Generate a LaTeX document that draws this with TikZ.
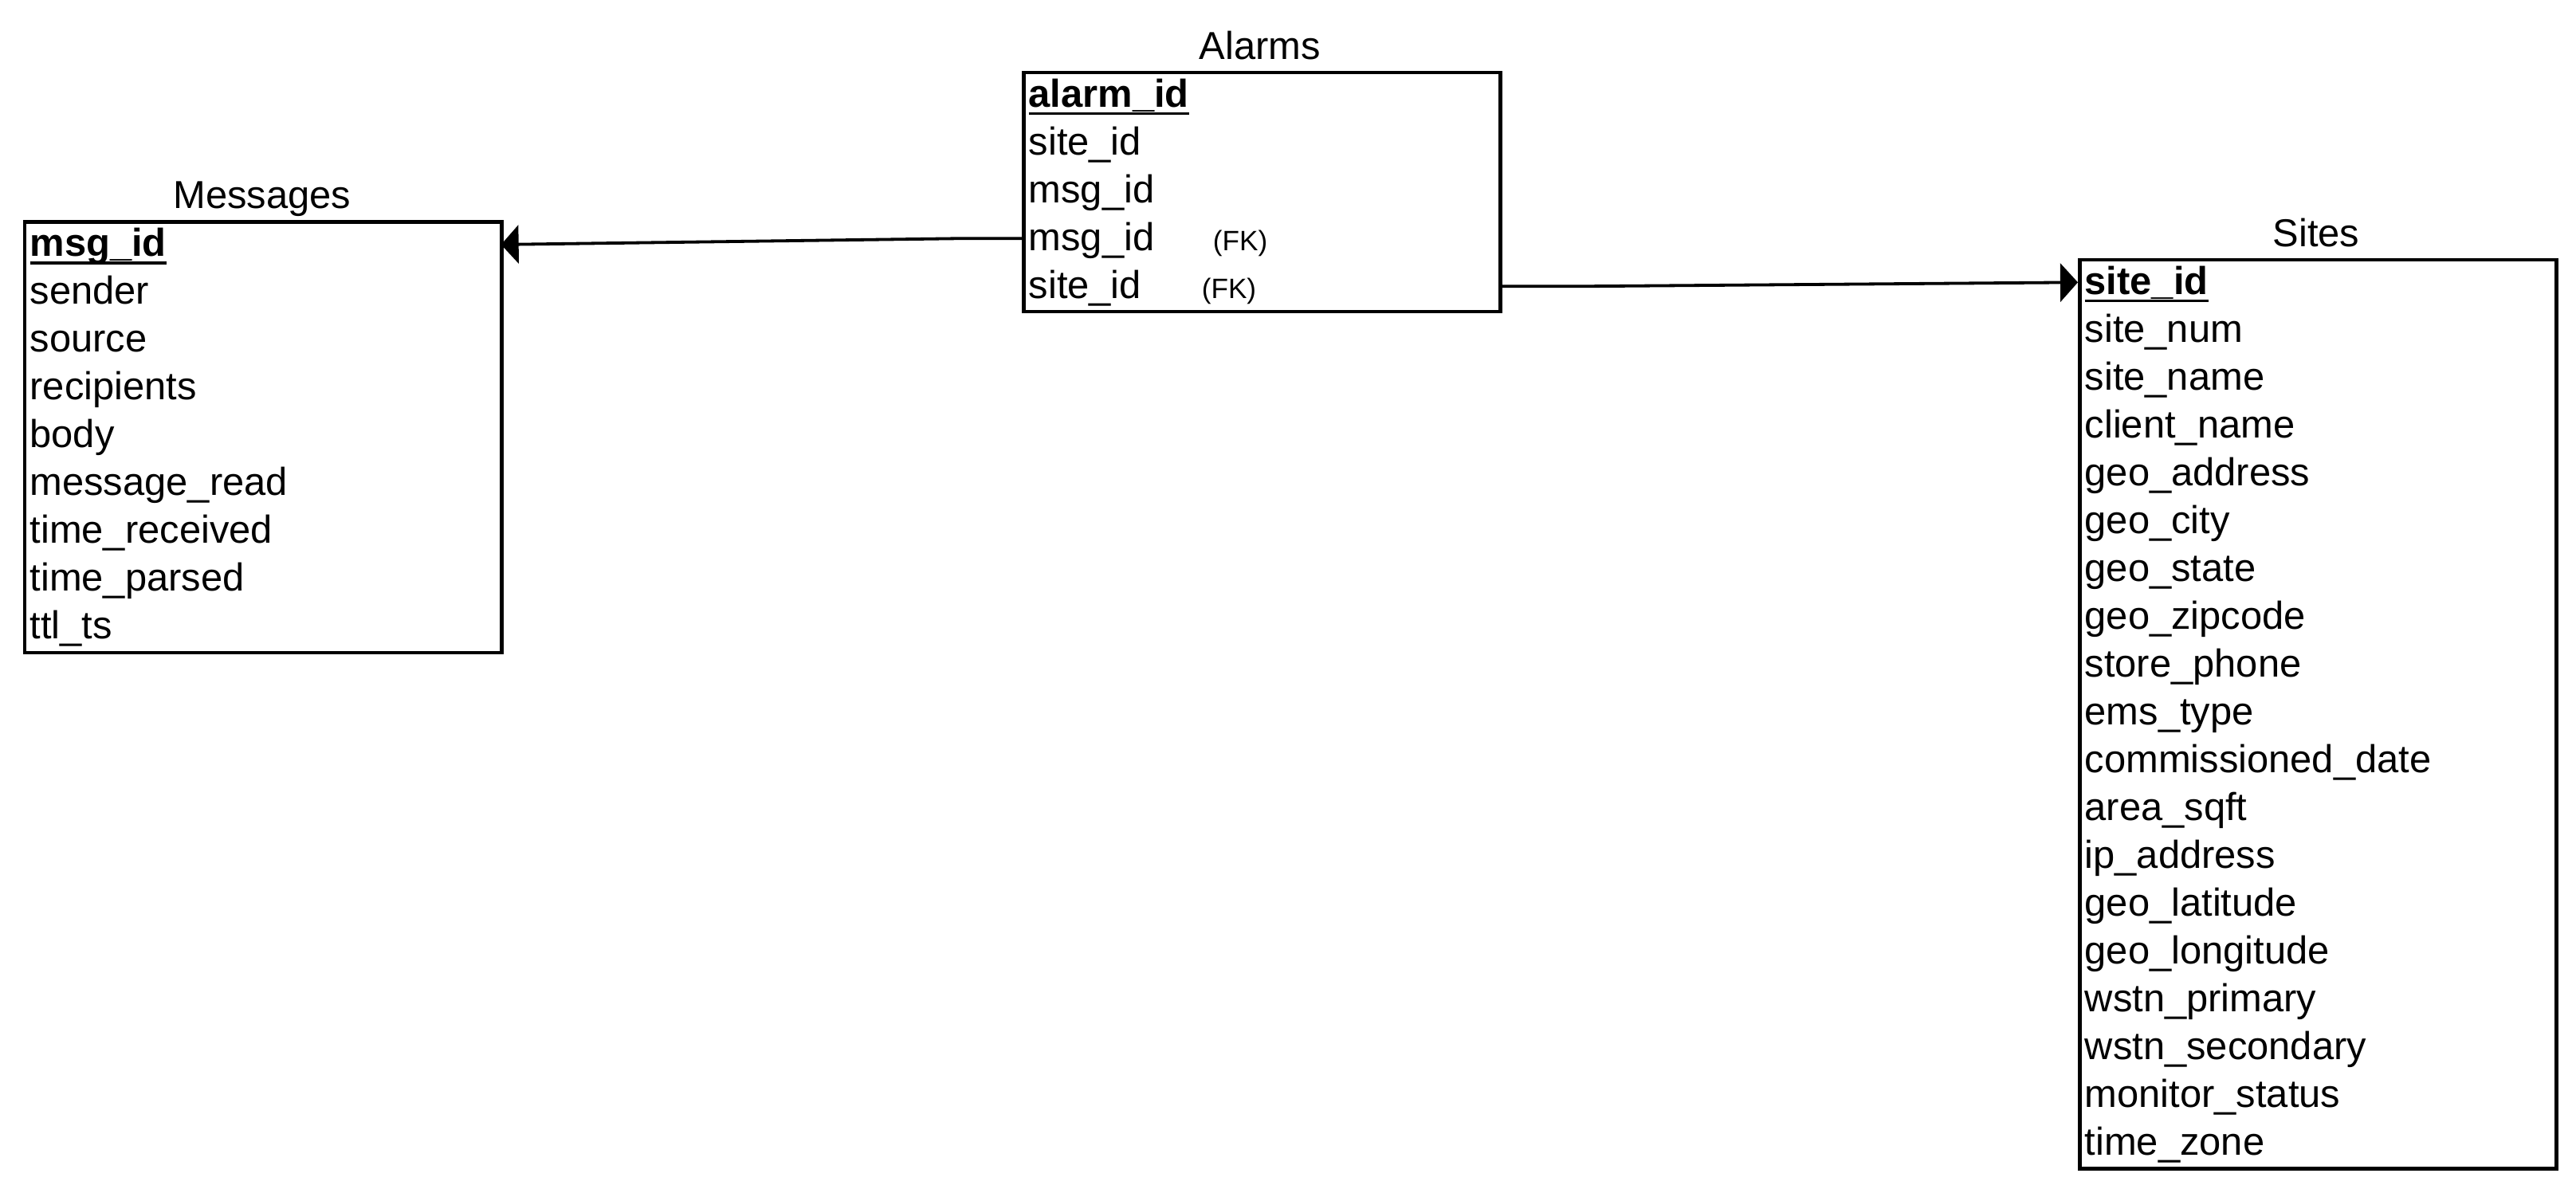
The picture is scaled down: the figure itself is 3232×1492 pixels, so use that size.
\documentclass[tikz,border=0pt]{standalone}
\usepackage{fontspec}
\setmainfont{Liberation Sans}
\usetikzlibrary{arrows.meta}
\newcommand{\keyul}[1]{\setbox0\hbox{#1}\rlap{\rule[-0.1cm]{\wd0}{0.035cm}}\box0}
\begin{document}
\begin{tikzpicture}[x=0.01cm,y=-0.01cm,
  tbl/.style={draw, line width=0.045cm, minimum width=5.98cm, inner sep=0, anchor=north west},
  row/.style={minimum width=5.98cm, minimum height=0.6cm, inner xsep=0.08cm, inner ysep=0,
    text height=0.45cm, text depth=0.15cm, text width=5.82cm, align=left, anchor=north west,
    font=\fontsize{13.9}{16}\selectfont},
  ttl/.style={anchor=base, inner sep=0, font=\fontsize{13.9}{16}\selectfont},
  conn/.style={line width=0.038cm, -{Triangle[length=0.22cm,width=0.48cm]}}
]
\useasboundingbox (0,0) rectangle (3232,1492);

% Messages
\node[ttl] (msgttl) at (328.75,262) {Messages};
\node[tbl, minimum height=5.4cm] (msgbox) at (28.9,276.2) {};
\node[row] (m1) at (28.9,276.2) {\keyul{\textbf{msg\_id}}};
\foreach \t [count=\i from 2] in {sender, source, recipients, body, message\_read, time\_received, time\_parsed, ttl\_ts}
  \node[row] (m\i) at (28.9,{276.2+60*(\i-1)}) {\t};

% Alarms
\node[ttl] (alrttl) at (1580.8,75) {Alarms};
\node[tbl, minimum height=3.0cm] (alrbox) at (1282,88.6) {};
\node[row] (a1) at (1282,88.6) {\keyul{\textbf{alarm\_id}}};
\node[row] (a2) at (1282,148.6) {site\_id};
\node[row] (a3) at (1282,208.6) {msg\_id};
\node[row] (a4) at (1282,268.6) {\makebox[2.31cm][l]{msg\_id}{\fontsize{10}{12}\selectfont (FK)}};
\node[row] (a5) at (1282,328.6) {\makebox[2.17cm][l]{site\_id}{\fontsize{10}{12}\selectfont (FK)}};

% Sites
\node[ttl] (sitttl) at (2906,310) {Sites};
\node[tbl, minimum height=11.4cm] (sitbox) at (2607,323.6) {};
\node[row] (s1) at (2607,323.6) {\keyul{\textbf{site\_id}}};
\foreach \t [count=\i from 2] in {site\_num, site\_name, client\_name, geo\_address, geo\_city, geo\_state, geo\_zipcode, store\_phone, ems\_type, commissioned\_date, area\_sqft, ip\_address, geo\_latitude, geo\_longitude, wstn\_primary, wstn\_secondary, monitor\_status, time\_zone}
  \node[row] (s\i) at (2607,{323.6+60*(\i-1)}) {\t};

% Connectors
\draw[conn] (a4.west) -- ++(-82.5,0) -- (m1.east);
\draw[conn] (a5.east) -- ++(99,0) -- (s1.west);
\end{tikzpicture}
\end{document}
